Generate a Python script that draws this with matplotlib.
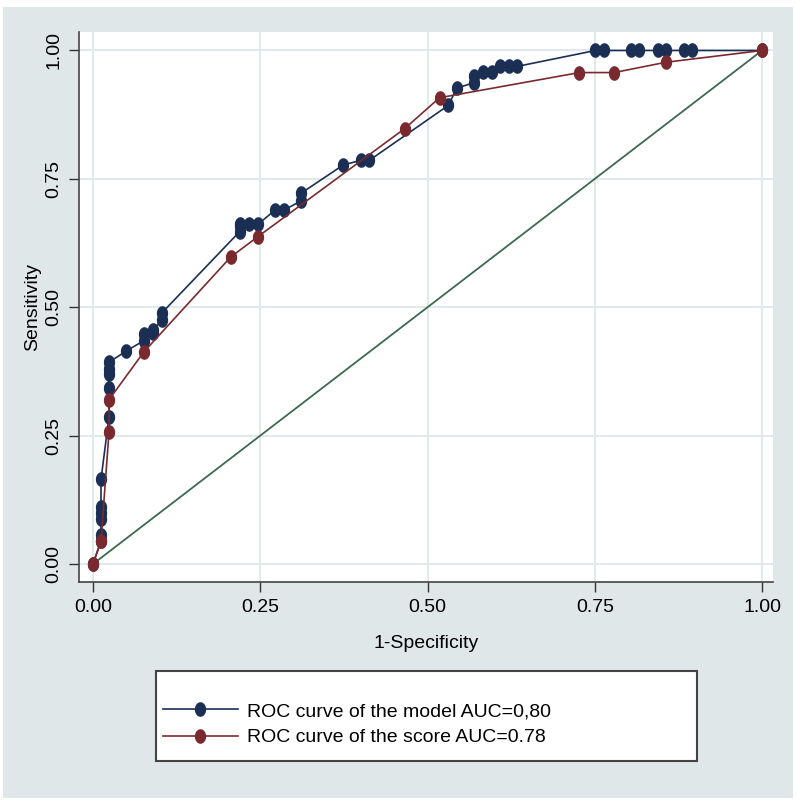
import matplotlib
matplotlib.use("Agg")
import matplotlib.pyplot as plt
from matplotlib.patches import Rectangle
from matplotlib.path import Path
import numpy as np

plt.rcParams['font.family'] = ['Liberation Sans', 'DejaVu Sans']

# ROC curve of the model
model_fpr = [0.0, 0.012, 0.012, 0.012, 0.012, 0.012, 0.012,
             0.024, 0.024, 0.024, 0.024, 0.024,
             0.050, 0.076, 0.076, 0.090, 0.090, 0.103, 0.103,
             0.219, 0.219, 0.219, 0.233, 0.247,
             0.272, 0.285, 0.311, 0.311,
             0.374, 0.400, 0.413,
             0.531, 0.544, 0.569, 0.569, 0.583, 0.597, 0.609, 0.622, 0.634,
             0.751, 0.764, 0.804, 0.816, 0.844, 0.856, 0.884, 0.895, 1.0]
model_tpr = [0.0, 0.045, 0.057, 0.087, 0.100, 0.112, 0.165,
             0.287, 0.343, 0.370, 0.380, 0.393,
             0.415, 0.435, 0.448, 0.450, 0.456, 0.475, 0.489,
             0.647, 0.658, 0.662, 0.662, 0.662,
             0.689, 0.689, 0.707, 0.722,
             0.777, 0.786, 0.786,
             0.893, 0.927, 0.937, 0.950, 0.959, 0.959, 0.969, 0.969, 0.969,
             1.0, 1.0, 1.0, 1.0, 1.0, 1.0, 1.0, 1.0, 1.0]

# ROC curve of the score
score_fpr = [0.0, 0.012, 0.024, 0.024, 0.076, 0.206, 0.246, 0.466,
             0.518, 0.727, 0.779, 0.856, 1.0]
score_tpr = [0.0, 0.045, 0.258, 0.320, 0.413, 0.598, 0.637, 0.848,
             0.908, 0.957, 0.957, 0.977, 1.0]

ref_line = [0.0, 1.0]

ticks = [0.0, 0.25, 0.5, 0.75, 1.0]
tick_labels = ["0.00", "0.25", "0.50", "0.75", "1.00"]
labels = ["ROC curve of the model AUC=0,80", "ROC curve of the score AUC=0.78"]

blue = "#1b2f55"
red = "#7a2a2e"
green = "#3d6a4e"
bg = "#dfe7e9"
grid_c = "#e1e9eb"

W, H = 797, 805
fig = plt.figure(figsize=(W / 100, H / 100), dpi=100, facecolor="white")

# gray outer panel
bg_rect = Rectangle((3 / W, 1 - 798 / H), (793 - 3) / W, (798 - 7) / H,
                    transform=fig.transFigure, facecolor=bg,
                    edgecolor="none", zorder=-10)
fig.patches.append(bg_rect)

ax = fig.add_axes([79 / W, 1 - 582 / H, (773 - 79) / W, (582 - 32) / H])
ax.set_zorder(2)
ax.set_facecolor("white")

# elliptical marker (vertically elongated)
t = np.linspace(0, 2 * np.pi, 40)
ell = Path(np.column_stack([0.75 * np.cos(t), np.sin(t)]), closed=True)

ax.plot(ref_line, ref_line, color=green, lw=1.3, zorder=2)
ax.plot(model_fpr, model_tpr, color=blue, lw=1.2, marker=ell, markersize=9.5,
        markerfacecolor=blue, markeredgecolor=blue, zorder=3, label=labels[0])
ax.plot(score_fpr, score_tpr, color=red, lw=1.2, marker=ell, markersize=9.5,
        markerfacecolor=red, markeredgecolor=red, zorder=4, label=labels[1])

ax.set_xlim(-0.0209, 1.0164)
ax.set_ylim(-0.035, 1.036)
ax.set_xticks(ticks)
ax.set_xticklabels(tick_labels, fontsize=14)
ax.set_yticks(ticks)
ax.set_yticklabels(tick_labels, fontsize=14, rotation=90, va="center")
ax.tick_params(axis="both", length=7, width=1, color="#333333", pad=5)
ax.grid(True, color=grid_c, lw=1.5, zorder=0)
ax.set_axisbelow(True)
for s in ["top", "right"]:
    ax.spines[s].set_visible(False)
for s in ["left", "bottom"]:
    ax.spines[s].set_color("#444444")
    ax.spines[s].set_linewidth(1.2)

ax.set_xlabel("1-Specificity", fontsize=14, labelpad=14)
ax.set_ylabel("Sensitivity", fontsize=14, labelpad=3)

# legend box
fig.patches.append(Rectangle((156 / W, 1 - 761 / H), (697 - 156) / W, (761 - 671) / H,
                             transform=fig.transFigure, facecolor="white",
                             edgecolor="#444444", lw=1.5, zorder=1))
handles, lbls = ax.get_legend_handles_labels()
leg = fig.legend(handles, lbls, loc="center left",
                 bbox_to_anchor=(163 / W, 1 - 724.5 / H),
                 frameon=False, fontsize=14, handlelength=3.85,
                 handletextpad=0.45, labelspacing=0.45, borderpad=0,
                 borderaxespad=0)
leg.set_zorder(5)

fig.savefig("out.png", dpi=100, facecolor="white")
